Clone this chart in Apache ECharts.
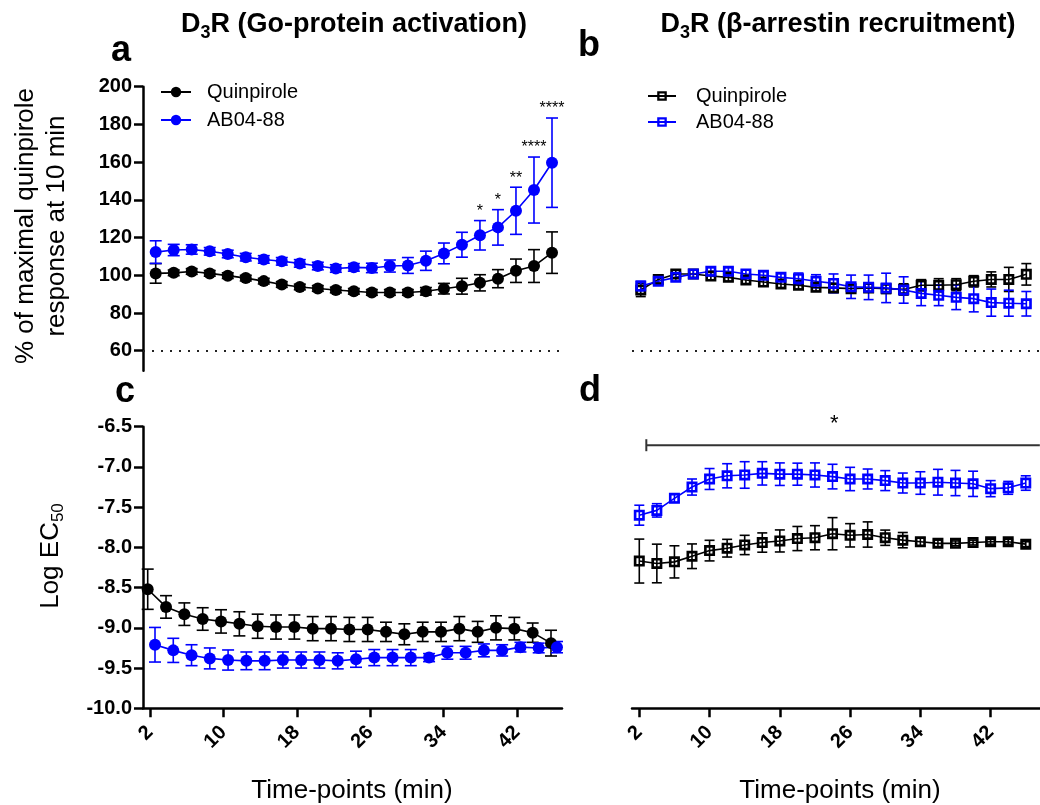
<!DOCTYPE html>
<html><head><meta charset="utf-8">
<script src="https://cdn.jsdelivr.net/npm/echarts@6/dist/echarts.min.js"></script>
<style>html,body{margin:0;padding:0;background:#fff}#c{width:1040px;height:805px}</style>
</head><body><div id="c"></div>
<script>
const FONT = '"Liberation Sans", Arial, Helvetica, sans-serif';

// ---- data ----
const time = [2,4,6,8,10,12,14,16,18,20,22,24,26,28,30,32,34,36,38,40,42,44,46];
const xTickLabels = [2,10,18,26,34,42];
const yTicksA = [60,80,100,120,140,160,180,200];

// Panel a: Go-protein activation (% of maximal quinpirole response at 10 min)
const aQuinMean = [101,101.3,102,101,99.8,98.5,96.9,95.1,93.8,93,92.2,91.5,90.9,90.9,90.9,91.5,92.9,94.2,96,98.2,102.4,104.9,112];
const aQuinErr  = [5.2,1.5,1.5,1.5,1.5,1.5,1.5,1.5,1.5,1.5,1.5,1.5,1.5,1.5,1.5,2,2.8,4.2,4.3,4.8,6.2,8.7,11];
const aAbMean   = [112.3,113.4,113.7,112.7,111.3,109.6,108.4,107.4,106.3,104.9,103.6,104.2,103.9,104.9,105.2,107.7,111.6,116.2,121.2,125.4,134.2,145.2,159.7];
const aAbErr    = [6,3,2.5,2,2,2,2,2,2,2,2,2,2.5,3.2,4.2,5.1,5.5,6.6,7.8,9.4,12.5,17.5,23.7];
const aSigIdx   = [18,19,20,21,22];
const aSigText  = ['*','*','**','****','****'];

// Panel b: beta-arrestin recruitment
const bQuinMean = [92.2,97.8,100.7,100.7,99.6,98.9,97.5,96.4,95.4,94.7,93.6,93.3,92.9,93.3,92.9,92.5,94.7,94.7,95,96.8,97.8,97.8,100.5];
const bQuinErr  = [3.5,2,2,2,2,2,2,2,2,2,2,2,2,2,2.5,3,3,3.5,3.2,3,4,6.4,5.7];
const bAbMean   = [94.3,96.8,98.9,100.7,102.1,102.1,100.7,100,98.9,98.2,96.8,95.7,93.9,93.6,93.3,92.2,90.4,89.4,88.3,87.6,85.5,85.2,84.9];
const bAbErr    = [2.5,2,2,2,2,2,2,2,2,3,3.5,5,6.2,6.5,7.8,7,6.5,5.5,6.5,7,7.2,6.9,6.5];

// Panel c: Log EC50, Go-protein activation
const cQuinMean = [-8.52,-8.74,-8.83,-8.89,-8.92,-8.95,-8.98,-8.99,-8.99,-9.01,-9.01,-9.02,-9.02,-9.05,-9.08,-9.05,-9.05,-9.01,-9.05,-9.0,-9.01,-9.06,-9.19];
const cQuinErr  = [0.25,0.14,0.14,0.14,0.145,0.15,0.15,0.15,0.15,0.15,0.15,0.15,0.15,0.12,0.13,0.12,0.12,0.15,0.13,0.15,0.14,0.12,0.16];
const cAbMean   = [-9.21,-9.28,-9.34,-9.38,-9.40,-9.41,-9.41,-9.40,-9.40,-9.40,-9.41,-9.39,-9.37,-9.37,-9.37,-9.37,-9.31,-9.31,-9.28,-9.28,-9.24,-9.25,-9.24];
const cAbErr    = [0.215,0.15,0.13,0.13,0.125,0.11,0.11,0.1,0.1,0.1,0.1,0.1,0.1,0.1,0.1,0.05,0.08,0.08,0.08,0.07,0.06,0.06,0.07];

// Panel d: Log EC50, beta-arrestin recruitment
const dQuinMean = [-8.17,-8.20,-8.18,-8.11,-8.04,-8.01,-7.97,-7.94,-7.92,-7.89,-7.88,-7.83,-7.85,-7.84,-7.88,-7.91,-7.93,-7.95,-7.95,-7.94,-7.93,-7.93,-7.96];
const dQuinErr  = [0.273,0.24,0.2,0.153,0.128,0.11,0.12,0.12,0.137,0.15,0.15,0.2,0.145,0.157,0.095,0.095,0.05,0.04,0.03,0.03,0.03,0.03,0.03];
const dAbMean   = [-7.60,-7.54,-7.39,-7.25,-7.15,-7.11,-7.10,-7.08,-7.09,-7.09,-7.10,-7.12,-7.15,-7.15,-7.17,-7.20,-7.20,-7.19,-7.20,-7.21,-7.27,-7.26,-7.20];
const dAbErr    = [0.124,0.083,0.05,0.1,0.13,0.15,0.165,0.145,0.14,0.137,0.15,0.153,0.145,0.124,0.124,0.124,0.14,0.16,0.157,0.157,0.1,0.08,0.09];
const dSigBar   = [2.8, -6.73, 47.6, 24.2];   // start time, y, end time, star time

// ---- helpers ----
const BLACK = '#000000', BLUE = '#0000ff';
const hollowSquare = 'path://M0,0H10V10H0ZM2.4,2.4V7.6H7.6V2.4Z';
const pts = (m) => time.map((t, i) => [t, m[i]]);
const errPts = (m, e) => time.map((t, i) => [t, m[i], e[i]]);

function errSeries(data, color, xi, yi, hw) {
  return {
    type: 'custom', xAxisIndex: xi, yAxisIndex: yi, z: 2, silent: true,
    data: data, encode: { x: 0, y: 1 },
    renderItem: (params, api) => {
      const x = api.value(0), m = api.value(1), e = api.value(2);
      const p1 = api.coord([x, m + e]), p2 = api.coord([x, m - e]);
      const st = { stroke: color, lineWidth: 1.6 };
      return { type: 'group', children: [
        { type: 'line', shape: { x1: p1[0], y1: p1[1], x2: p2[0], y2: p2[1] }, style: st },
        { type: 'line', shape: { x1: p1[0] - hw, y1: p1[1], x2: p1[0] + hw, y2: p1[1] }, style: st },
        { type: 'line', shape: { x1: p2[0] - hw, y1: p2[1], x2: p2[0] + hw, y2: p2[1] }, style: st }
      ]};
    }
  };
}
function lineSeries(name, data, color, xi, yi, symbol, size, extra) {
  return Object.assign({
    type: 'line', name: name, xAxisIndex: xi, yAxisIndex: yi, z: 3,
    data: data, symbol: symbol, symbolSize: size, showSymbol: true,
    lineStyle: { color: color, width: 1.6 },
    itemStyle: { color: color, opacity: 1 },
    emphasis: { disabled: true }, silent: true
  }, extra || {});
}
const dotted60 = {
  silent: true, symbol: 'none', label: { show: false },
  lineStyle: { type: [2, 7], color: '#222', width: 2 },
  data: [{ yAxis: 60 }]
};

const tickLabelStyle = { fontFamily: FONT, fontWeight: 'bold', fontSize: 20, color: '#000' };
const axisLineStyle = { show: true, onZero: false, lineStyle: { color: '#000', width: 2.5 } };

function hiddenX(grid, min, max) {
  return { type: 'value', gridIndex: grid, min: min, max: max, show: false, splitLine: { show: false } };
}
function shownX(grid, min, max) {
  return {
    type: 'value', gridIndex: grid, min: min, max: max, position: 'bottom',
    axisLine: axisLineStyle,
    axisTick: { show: true, length: 9, customValues: xTickLabels, lineStyle: { color: '#000', width: 2.5 } },
    axisLabel: Object.assign({ customValues: xTickLabels, rotate: 45, margin: 21 }, tickLabelStyle),
    splitLine: { show: false }
  };
}

const chart = echarts.init(document.getElementById('c'), null, { renderer: 'canvas' });

const option = {
  animation: false,
  backgroundColor: '#fff',
  grid: [
    { left: 143, top: 86.7, width: 419, height: 284 },
    { left: 632, top: 86.7, width: 419, height: 284 },
    { left: 143, top: 426.7, width: 419, height: 281.6 },
    { left: 632, top: 426.7, width: 419, height: 281.6 }
  ],
  xAxis: [
    hiddenX(0, 0.59, 47.11),     // 0: panel a
    hiddenX(1, 1.0, 47.56),      // 1: panel b
    shownX(2, 1.237, 46.9),      // 2: panel c ticks
    hiddenX(2, 0.686, 46.55),    // 3: panel c AB04-88
    hiddenX(2, 1.487, 47.2),     // 4: panel c quinpirole
    shownX(3, 1.17, 47.62)       // 5: panel d
  ],
  yAxis: [
    {
      type: 'value', gridIndex: 0, min: 49.4, max: 200,
      axisLine: axisLineStyle,
      axisTick: { show: true, length: 9, customValues: yTicksA, lineStyle: { color: '#000', width: 2.5 } },
      axisLabel: Object.assign({ customValues: yTicksA, margin: 11 }, tickLabelStyle),
      splitLine: { show: false }
    },
    { type: 'value', gridIndex: 1, min: 49.4, max: 200, show: false, splitLine: { show: false } },
    {
      type: 'value', gridIndex: 2, min: -10, max: -6.5, interval: 0.5,
      axisLine: axisLineStyle,
      axisTick: { show: true, length: 9, lineStyle: { color: '#000', width: 2.5 } },
      axisLabel: Object.assign({ margin: 11, formatter: (v) => v.toFixed(1) }, tickLabelStyle),
      splitLine: { show: false }
    },
    { type: 'value', gridIndex: 3, min: -10, max: -6.5, show: false, splitLine: { show: false } }
  ],
  legend: [
    {
      data: ['Quinpirole', 'AB04-88'], orient: 'vertical', left: 160, top: 82, padding: 0,
      itemWidth: 30, itemHeight: 13, itemGap: 8, selectedMode: false,
      textStyle: { fontFamily: FONT, fontSize: 20, color: '#000', lineHeight: 20, padding: [0, 0, 0, 11] }
    },
    {
      data: ['Quinpirole|b', 'AB04-88|b'], formatter: (n) => n.split('|')[0],
      orient: 'vertical', left: 647, top: 86, padding: 0,
      itemWidth: 28, itemHeight: 12, itemGap: 6, selectedMode: false,
      textStyle: { fontFamily: FONT, fontSize: 20, color: '#000', lineHeight: 20, padding: [0, 0, 0, 15] }
    }
  ],
  series: [
    // panel a
    errSeries(errPts(aQuinMean, aQuinErr), BLACK, 0, 0, 6),
    errSeries(errPts(aAbMean, aAbErr), BLUE, 0, 0, 6),
    lineSeries('Quinpirole', pts(aQuinMean), BLACK, 0, 0, 'circle', 12, { markLine: dotted60 }),
    lineSeries('AB04-88', pts(aAbMean), BLUE, 0, 0, 'circle', 12),
    {
      type: 'custom', xAxisIndex: 0, yAxisIndex: 0, z: 4, silent: true,
      data: aSigIdx.map((k) => [time[k], aAbMean[k] + aAbErr[k]]), encode: { x: 0, y: 1 },
      renderItem: (params, api) => {
        const p = api.coord([api.value(0), api.value(1)]);
        return { type: 'text', x: p[0], y: p[1] - 1,
          style: { text: aSigText[params.dataIndex], fill: '#000', fontFamily: FONT, fontSize: 16,
                   align: 'center', verticalAlign: 'bottom' } };
      }
    },
    // panel b
    errSeries(errPts(bQuinMean, bQuinErr), BLACK, 1, 1, 5),
    errSeries(errPts(bAbMean, bAbErr), BLUE, 1, 1, 5),
    lineSeries('Quinpirole|b', pts(bQuinMean), BLACK, 1, 1, hollowSquare, 11, { markLine: dotted60 }),
    lineSeries('AB04-88|b', pts(bAbMean), BLUE, 1, 1, hollowSquare, 11),
    // panel c
    errSeries(errPts(cQuinMean, cQuinErr), BLACK, 4, 2, 6),
    errSeries(errPts(cAbMean, cAbErr), BLUE, 3, 2, 6),
    lineSeries('Quinpirole', pts(cQuinMean), BLACK, 4, 2, 'circle', 12),
    lineSeries('AB04-88', pts(cAbMean), BLUE, 3, 2, 'circle', 12),
    // panel d
    errSeries(errPts(dQuinMean, dQuinErr), BLACK, 5, 3, 5),
    errSeries(errPts(dAbMean, dAbErr), BLUE, 5, 3, 5),
    lineSeries('Quinpirole|b', pts(dQuinMean), BLACK, 5, 3, hollowSquare, 11),
    lineSeries('AB04-88|b', pts(dAbMean), BLUE, 5, 3, hollowSquare, 11),
    {
      type: 'custom', xAxisIndex: 5, yAxisIndex: 3, z: 4, silent: true,
      data: [dSigBar], encode: { x: 0, y: 1 },
      renderItem: (params, api) => {
        const a = api.coord([api.value(0), api.value(1)]);
        const b = api.coord([api.value(2), api.value(1)]);
        const s = api.coord([api.value(3), api.value(1)]);
        const st = { stroke: '#333', lineWidth: 2 };
        return { type: 'group', children: [
          { type: 'line', shape: { x1: a[0], y1: a[1], x2: b[0], y2: b[1] }, style: st },
          { type: 'line', shape: { x1: a[0], y1: a[1] - 6, x2: a[0], y2: a[1] + 6 }, style: st },
          { type: 'text', x: s[0], y: a[1] - 10,
            style: { text: '*', fill: '#000', fontFamily: FONT, fontSize: 22, align: 'center', verticalAlign: 'bottom' } }
        ]};
      }
    }
  ],
  graphic: [
    { type: 'text', x: 354, y: 25, style: {
        text: '{b|D}{s|3}{b|R (Go-protein activation)}', align: 'center', verticalAlign: 'middle',
        rich: { b: { fontFamily: FONT, fontSize: 27, fontWeight: 'bold', fill: '#000', lineHeight: 34, verticalAlign: 'middle' },
                s: { fontFamily: FONT, fontSize: 18, fontWeight: 'bold', fill: '#000', lineHeight: 18, verticalAlign: 'bottom' } } } },
    { type: 'text', x: 838, y: 25, style: {
        text: '{b|D}{s|3}{b|R (β-arrestin recruitment)}', align: 'center', verticalAlign: 'middle',
        rich: { b: { fontFamily: FONT, fontSize: 27, fontWeight: 'bold', fill: '#000', lineHeight: 34, verticalAlign: 'middle' },
                s: { fontFamily: FONT, fontSize: 18, fontWeight: 'bold', fill: '#000', lineHeight: 18, verticalAlign: 'bottom' } } } },
    { type: 'text', x: 121, y: 51, style: { text: 'a', fontFamily: FONT, fontSize: 36, fontWeight: 'bold', fill: '#000', align: 'center', verticalAlign: 'middle' } },
    { type: 'text', x: 589, y: 46, style: { text: 'b', fontFamily: FONT, fontSize: 36, fontWeight: 'bold', fill: '#000', align: 'center', verticalAlign: 'middle' } },
    { type: 'text', x: 125, y: 392, style: { text: 'c', fontFamily: FONT, fontSize: 36, fontWeight: 'bold', fill: '#000', align: 'center', verticalAlign: 'middle' } },
    { type: 'text', x: 590, y: 391, style: { text: 'd', fontFamily: FONT, fontSize: 36, fontWeight: 'bold', fill: '#000', align: 'center', verticalAlign: 'middle' } },
    { type: 'text', x: 41, y: 226, rotation: Math.PI / 2, style: {
        text: '% of maximal quinpirole\nresponse at 10 min', fontFamily: FONT, fontSize: 26, lineHeight: 31,
        fill: '#000', align: 'center', verticalAlign: 'middle' } },
    { type: 'text', x: 51, y: 556, rotation: Math.PI / 2, style: {
        text: '{n|Log EC}{s|50}', align: 'center', verticalAlign: 'middle',
        rich: { n: { fontFamily: FONT, fontSize: 26, fill: '#000', lineHeight: 32, verticalAlign: 'middle' },
                s: { fontFamily: FONT, fontSize: 17, fill: '#000', lineHeight: 17, verticalAlign: 'bottom' } } } },
    { type: 'text', x: 352, y: 791, style: { text: 'Time-points (min)', fontFamily: FONT, fontSize: 26, fill: '#000', align: 'center', verticalAlign: 'middle' } },
    { type: 'text', x: 840, y: 791, style: { text: 'Time-points (min)', fontFamily: FONT, fontSize: 26, fill: '#000', align: 'center', verticalAlign: 'middle' } }
  ]
};
chart.setOption(option);
</script>
</body></html>
